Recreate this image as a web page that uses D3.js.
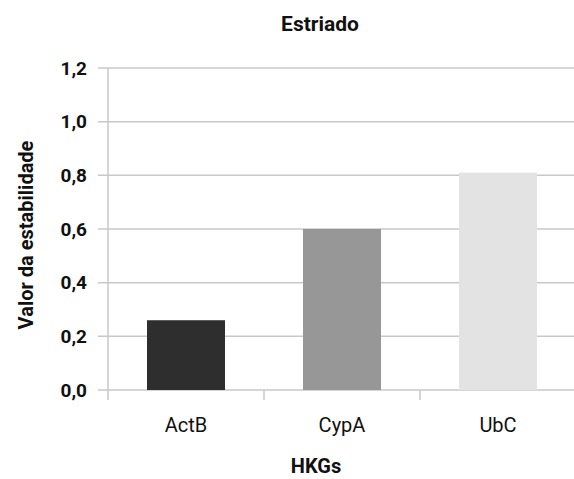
<!DOCTYPE html>
<html>
<head>
<meta charset="utf-8">
<script src="https://cdn.jsdelivr.net/npm/d3@7"></script>
<style>
  body { margin: 0; background: #fff; }
  svg { display: block; }
</style>
</head>
<body>
<svg id="chart"></svg>
<script>
const genes = ["ActB", "CypA", "UbC"];
const stability = [0.26, 0.60, 0.81];
const barColors = ["#2e2e2e", "#979797", "#e3e3e3"];
const yTicks = [0, 0.2, 0.4, 0.6, 0.8, 1.0, 1.2];

const svgWidth = 574;
const svgHeight = 479;
const margin = { top: 68, right: -2, bottom: 89, left: 108 };

const svg = d3.select("#chart")
    .attr("width", svgWidth)
    .attr("height", svgHeight)
    .style("font-family", "Roboto, 'Noto Sans', sans-serif");

const width = svgWidth - margin.left - margin.right;
const height = svgHeight - margin.top - margin.bottom;

const g = svg.append("g").attr("transform", `translate(${margin.left},${margin.top})`);

const xScale = d3.scaleBand().domain(genes).range([0, width]).paddingInner(0.5).paddingOuter(0.25);
const xTickScale = d3.scaleBand().domain(genes).range([0, width]);
const yScale = d3.scaleLinear().domain([0, 1.2]).range([height, 0]);

// gridlines
g.append("g")
    .selectAll("line")
    .data(yTicks)
    .enter().append("line")
    .attr("x1", -10)
    .attr("x2", width)
    .attr("y1", d => yScale(d))
    .attr("y2", d => yScale(d))
    .attr("stroke", "#c8c8c8")
    .attr("stroke-width", 1.5);

// y tick labels
g.append("g")
    .selectAll("text")
    .data(yTicks)
    .enter().append("text")
    .attr("x", -21)
    .attr("y", d => yScale(d))
    .attr("dy", "0.35em")
    .attr("text-anchor", "end")
    .style("font-size", "19px")
    .style("font-weight", "bold")
    .attr("fill", "#111")
    .text(d => d3.format(".1f")(d).replace(".", ","));

// y axis line
g.append("line")
    .attr("x1", 0).attr("x2", 0)
    .attr("y1", 0).attr("y2", height + 10)
    .attr("stroke", "#c8c8c8")
    .attr("stroke-width", 1.5);

// category ticks
g.append("g")
    .selectAll("line")
    .data(genes.slice(1))
    .enter().append("line")
    .attr("x1", d => xTickScale(d))
    .attr("x2", d => xTickScale(d))
    .attr("y1", height)
    .attr("y2", height + 10)
    .attr("stroke", "#c8c8c8")
    .attr("stroke-width", 1.5);

// bars
g.selectAll(".bar")
    .data(genes)
    .enter().append("rect")
    .attr("class", "bar")
    .attr("x", d => xScale(d))
    .attr("width", xScale.bandwidth())
    .attr("y", (d, i) => yScale(stability[i]))
    .attr("height", (d, i) => height - yScale(stability[i]))
    .attr("fill", (d, i) => barColors[i]);

// category labels
g.append("g")
    .selectAll("text")
    .data(genes)
    .enter().append("text")
    .attr("x", d => xTickScale(d) + xTickScale.bandwidth() / 2)
    .attr("y", height + 42)
    .attr("text-anchor", "middle")
    .style("font-size", "20px")
    .attr("fill", "#111")
    .text(d => d);

// title
svg.append("text")
    .attr("x", 320)
    .attr("y", 31)
    .attr("text-anchor", "middle")
    .style("font-size", "21px")
    .style("font-weight", "bold")
    .attr("fill", "#111")
    .text("Estriado");

// x axis title
svg.append("text")
    .attr("x", 316)
    .attr("y", 473)
    .attr("text-anchor", "middle")
    .style("font-size", "20px")
    .style("font-weight", "bold")
    .attr("fill", "#111")
    .text("HKGs");

// y axis title
svg.append("text")
    .attr("transform", "rotate(-90)")
    .attr("x", -235)
    .attr("y", 33)
    .attr("text-anchor", "middle")
    .style("font-size", "20px")
    .style("font-weight", "bold")
    .attr("fill", "#111")
    .text("Valor da estabilidade");
</script>
</body>
</html>
